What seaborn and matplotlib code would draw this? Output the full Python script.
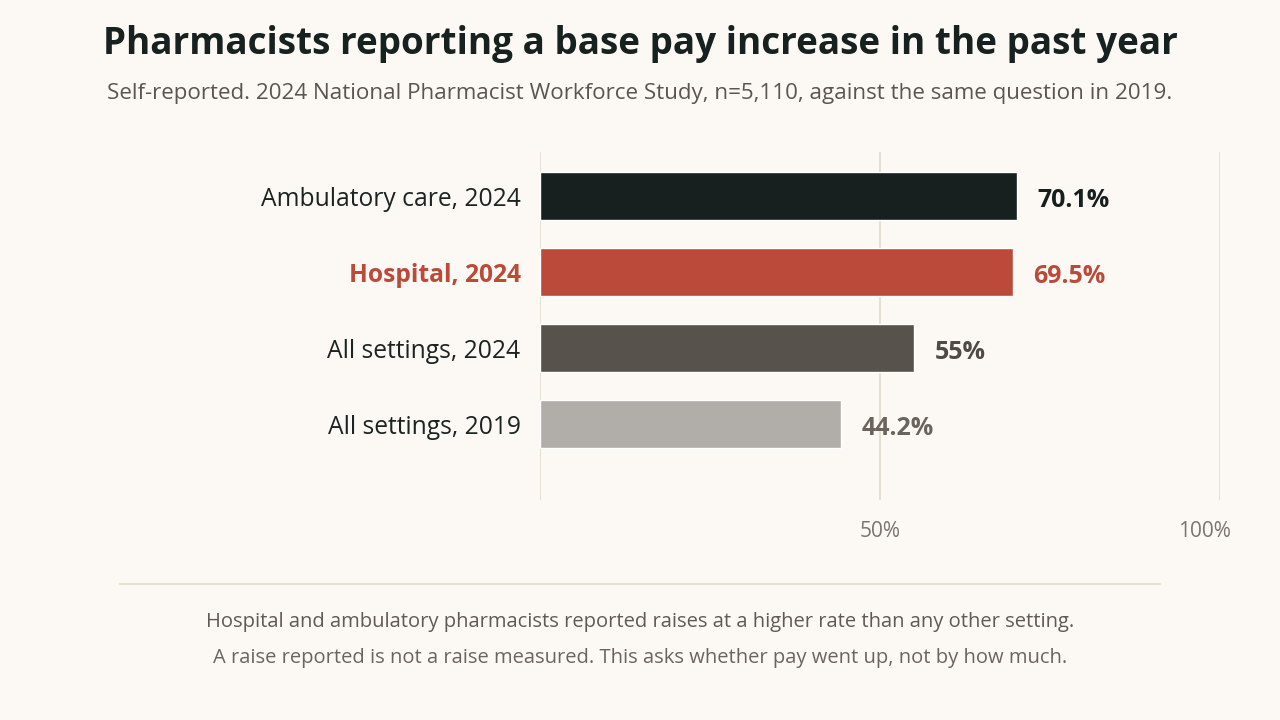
"""
Доля фармацевтов, сообщивших о повышении базовой зарплаты.
"""

import matplotlib.pyplot as plt
import matplotlib.transforms as mtransforms
import seaborn as sns
import pandas as pd

categories = ["Ambulatory care, 2024", "Hospital, 2024", "All settings, 2024", "All settings, 2019"]
values = [70.1, 69.5, 55.0, 44.2]
value_labels = ["70.1%", "69.5%", "55%", "44.2%"]
x_ticks = [0, 50, 100]
x_tick_labels = ["", "50%", "100%"]

bar_colors = ["#17201e", "#bb4a3a", "#58524c", "#b1ada8"]
value_colors = ["#17201e", "#bb4a3a", "#4f4a45", "#6b645c"]
label_colors = ["#1c2422", "#bb4a3a", "#1c2422", "#1c2422"]

BG = "#fcf9f5"
GRID = "#e6dfd3"

sns.set_theme(style="white")
plt.rcParams["font.family"] = ["Open Sans", "DejaVu Sans"]

df = pd.DataFrame({"category": categories, "value": values})

fig = plt.figure(figsize=(12.8, 7.2), dpi=100, facecolor=BG)
ax = fig.add_axes([540 / 1280, 1 - 500 / 720, 680 / 1280, 348 / 720])
ax.set_facecolor(BG)

sns.barplot(data=df, x="value", y="category", hue="category",
            palette=dict(zip(categories, bar_colors)), order=categories,
            width=48 / 76, legend=False, saturation=1, ax=ax, zorder=3)

ax.set_xlim(0, 100)
ax.set_ylim(4.0, -0.579)
ax.set_xticks(x_ticks)
ax.set_xticklabels(x_tick_labels, fontsize=15, color="#7a7570")
ax.tick_params(axis="x", length=0, pad=15)
ax.tick_params(axis="y", length=0, pad=14)
for v in x_ticks:
    ax.axvline(v, color=GRID, lw=1.5, zorder=1)
for s in ax.spines.values():
    s.set_visible(False)
ax.set_xlabel("")
ax.set_ylabel("")

# подпись 100% сдвинута влево, чтобы не вылезать за край
last = ax.get_xticklabels()[-1]
last.set_transform(last.get_transform() + mtransforms.ScaledTranslation(-16 / 100, 0, fig.dpi_scale_trans))

for lbl, c in zip(ax.get_yticklabels(), label_colors):
    lbl.set_fontsize(17.7)
    lbl.set_color(c)
    if c == "#bb4a3a":
        lbl.set_fontweight("bold")

for i, (v, t, c) in enumerate(zip(values, value_labels, value_colors)):
    ax.annotate(t, xy=(v, i), xytext=(21, -4), textcoords="offset pixels",
                ha="left", va="center", fontsize=18, fontweight="bold", color=c)

fig.text(0.5, 1 - 44 / 720, "Pharmacists reporting a base pay increase in the past year",
         ha="center", va="center", fontsize=26.6, fontweight="bold", color="#172220")
fig.text(0.5, 1 - 94 / 720,
         "Self-reported. 2024 National Pharmacist Workforce Study, n=5,110, against the same question in 2019.",
         ha="center", va="center", fontsize=16.1, color="#5a5550")

fig.add_artist(plt.Line2D([120 / 1280, 1160 / 1280], [1 - 584 / 720] * 2, color=GRID, lw=1.5))
fig.text(0.5, 1 - 622 / 720,
         "Hospital and ambulatory pharmacists reported raises at a higher rate than any other setting.",
         ha="center", va="center", fontsize=14.5, color="#5f5a55")
fig.text(0.5, 1 - 658 / 720,
         "A raise reported is not a raise measured. This asks whether pay went up, not by how much.",
         ha="center", va="center", fontsize=14.5, color="#6b655f")

fig.savefig("out.png", dpi=100, facecolor=BG)
plt.close()
